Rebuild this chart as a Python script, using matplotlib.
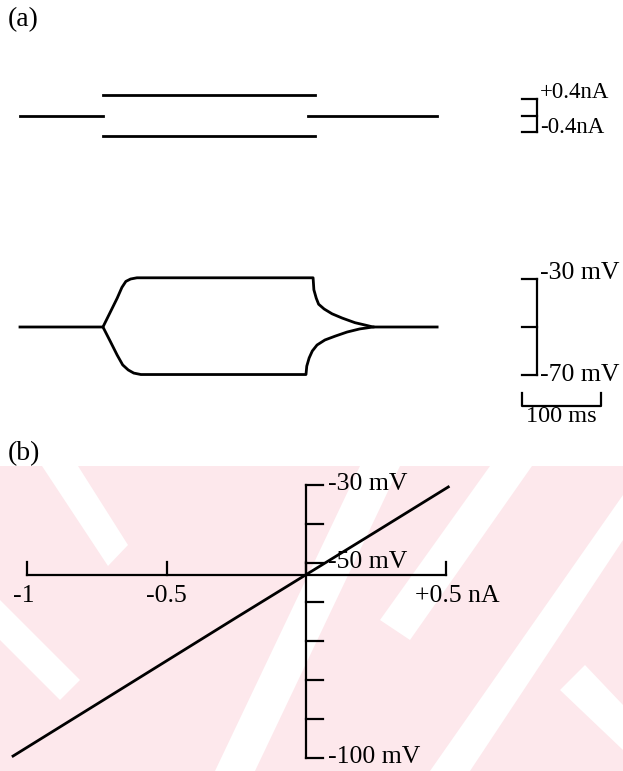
import numpy as np
import matplotlib.pyplot as plt
from matplotlib.patches import Polygon, Rectangle

W, H = 623, 771
FONT = 'Liberation Serif'

# ---- (a) injected current steps (ms, nA)
pre_t = [0, 105]
step_t = [105, 373]
post_t = [365, 528]
step_amps = [0.5, -0.5]

# ---- (a) membrane potential responses (ms, mV)
rest_v = -50
up_t = [0, 105, 114, 123, 129, 134, 140, 148, 371, 372, 375, 378, 385, 395, 408, 424, 437, 447, 528]
up_v = [-50, -50, -44, -38, -33.5, -31, -30, -29.5, -29.5, -34.5, -38, -40.5, -42.5, -44.5, -46.3, -48.2, -49.2, -50, -50]
down_t = [105, 114, 123, 130, 137, 144, 153, 362, 363, 366, 370, 376, 386, 399, 414, 430, 447]
down_v = [-50, -55.8, -61.7, -65.8, -67.9, -69.2, -69.8, -69.8, -66.3, -62.9, -60, -57.5, -55.4, -53.8, -52.1, -50.8, -50]

# scale bars for (a)
i_bar = [0.4, 0.0, -0.4]
i_bar_labels = ['+0.4nA', '-0.4nA']
v_bar = [-30, -50, -70]
v_bar_labels = ['-30 mV', '-70 mV']
t_bar = [635, 735]
t_bar_label = '100 ms'

# ---- (b) steady-state I-V relation (nA, mV)
iv_current = [-1.05, -0.75, -0.5, -0.25, 0.0, 0.25, 0.51]
iv_voltage = [-99.5, -86.2, -75.1, -64.0, -53.0, -42.0, -30.5]
iv_rest = -53
x_ticks = [-1, -0.5, 0, 0.5]
x_tick_labels = ['-1', '-0.5', None, '+0.5 nA']
y_ticks = [-30, -40, -50, -60, -70, -80, -90, -100]
y_tick_labels = {-30: '-30 mV', -50: '-50 mV', -100: '-100 mV'}

fig = plt.figure(figsize=(W / 100, H / 100), dpi=100)


def px_axes(x0, y0, x1, y1, z=1):
    ax = fig.add_axes([x0 / W, 1 - y1 / H, (x1 - x0) / W, (y1 - y0) / H], zorder=z)
    ax.set_facecolor('none')
    ax.axis('off')
    return ax


# pink watermark behind panel (b), in pixel units
bg = px_axes(0, 0, W, H, z=0)
bg.set_xlim(0, W)
bg.set_ylim(H, 0)
pink = '#fde8ec'
bg.add_patch(Rectangle((0, 466), W, H - 466, color=pink, lw=0))
white_bands = [
    [(42, 466), (78, 466), (128, 545), (108, 566)],
    [(0, 600), (0, 640), (60, 700), (80, 680)],
    [(360, 466), (400, 466), (255, 771), (215, 771)],
    [(490, 466), (532, 466), (410, 640), (380, 620)],
    [(623, 495), (623, 540), (470, 771), (430, 771)],
    [(560, 690), (585, 665), (623, 705), (623, 750)],
]
for band in white_bands:
    bg.add_patch(Polygon(band, closed=True, color='white', lw=0))

txt = dict(family=FONT, fontsize=18.5, color='black')
fig.text(8 / W, 1 - 20 / H, '(a)', va='center', ha='left', family=FONT, fontsize=20)
fig.text(8 / W, 1 - 454 / H, '(b)', va='center', ha='left', family=FONT, fontsize=20)

# ---- panel (a): current traces
ms_px, t0_px = 0.79, 20
ax_i = px_axes(0, 50, W, 180)
ax_i.set_xlim((0 - t0_px) / ms_px, (W - t0_px) / ms_px)
na_px, i0_px = 41, 115.5
ax_i.set_ylim((i0_px - 180) / na_px, (i0_px - 50) / na_px)
lw = 2.0
blw = 1.6
ax_i.plot(pre_t, [0, 0], color='black', lw=lw)
for a in step_amps:
    ax_i.plot(step_t, [a, a], color='black', lw=lw)
ax_i.plot(post_t, [0, 0], color='black', lw=lw)

bar_x, tick_x = 654, 635
ax_i.plot([bar_x, bar_x], [i_bar[0], i_bar[-1]], color='black', lw=blw)
for v in i_bar:
    ax_i.plot([tick_x, bar_x], [v, v], color='black', lw=blw)
ax_i.text(bar_x + 4, i_bar[0] + 0.15, i_bar_labels[0], va='center', ha='left',
          family=FONT, fontsize=16.5)
ax_i.text(bar_x + 4, i_bar[-1] + 0.1, i_bar_labels[1], va='center', ha='left',
          family=FONT, fontsize=16.5)

# ---- panel (a): voltage traces
ax_v = px_axes(0, 230, W, 440)
ax_v.set_xlim((0 - t0_px) / ms_px, (W - t0_px) / ms_px)
mv_px, v0_px = 2.4, 327
ax_v.set_ylim(rest_v - (440 - v0_px) / mv_px, rest_v + (v0_px - 230) / mv_px)
ax_v.plot(up_t, up_v, color='black', lw=lw, solid_joinstyle='round')
ax_v.plot(down_t, down_v, color='black', lw=lw, solid_joinstyle='round')

ax_v.plot([bar_x, bar_x], [v_bar[0], v_bar[-1]], color='black', lw=blw)
for v in v_bar:
    ax_v.plot([tick_x, bar_x], [v, v], color='black', lw=blw)
ax_v.text(bar_x + 4, v_bar[0] + 2.5, v_bar_labels[0], va='center', ha='left', **txt)
ax_v.text(bar_x + 4, v_bar[-1], v_bar_labels[1], va='center', ha='left', **txt)

tb_v, tb_h = -82.9, 5.4
ax_v.plot([t_bar[0], t_bar[0], t_bar[1], t_bar[1]],
          [tb_v + tb_h, tb_v, tb_v, tb_v + tb_h], color='black', lw=blw)
ax_v.text(np.mean(t_bar), tb_v - 4.6, t_bar_label, va='center', ha='center',
          family=FONT, fontsize=17.5)

# ---- panel (b): I-V curve with cross axes
ax_b = px_axes(0, 470, W, H)
x_px, x0 = 279, 306
y_px, y0 = 3.9, 485
ax_b.set_xlim((0 - x0) / x_px, (W - x0) / x_px)
ax_b.set_ylim(-30 - (H - y0) / y_px, -30 - (470 - y0) / y_px)

alw = 1.6
ax_b.plot([x_ticks[0], x_ticks[-1]], [iv_rest, iv_rest], color='black', lw=alw)
ax_b.plot([0, 0], [y_ticks[0], y_ticks[-1]], color='black', lw=alw)
for x in x_ticks:
    ax_b.plot([x, x], [iv_rest, iv_rest + 13 / y_px], color='black', lw=alw)
for y in y_ticks:
    ax_b.plot([0, 17 / x_px], [y, y], color='black', lw=alw)

for x, lab in zip(x_ticks, x_tick_labels):
    if lab is None:
        continue
    if x == x_ticks[0]:
        ax_b.text(x - 0.05, iv_rest - 5.5, lab, va='center', ha='left', **txt)
    elif x == x_ticks[-1]:
        ax_b.text(x - 0.11, iv_rest - 5.5, lab, va='center', ha='left', **txt)
    else:
        ax_b.text(x, iv_rest - 5.5, lab, va='center', ha='center', **txt)
for y, lab in y_tick_labels.items():
    ax_b.text(0.08, y + 0.3, lab, va='center', ha='left', **txt)

ax_b.plot(iv_current, iv_voltage, color='black', lw=lw)

fig.savefig('out.png', dpi=100)
